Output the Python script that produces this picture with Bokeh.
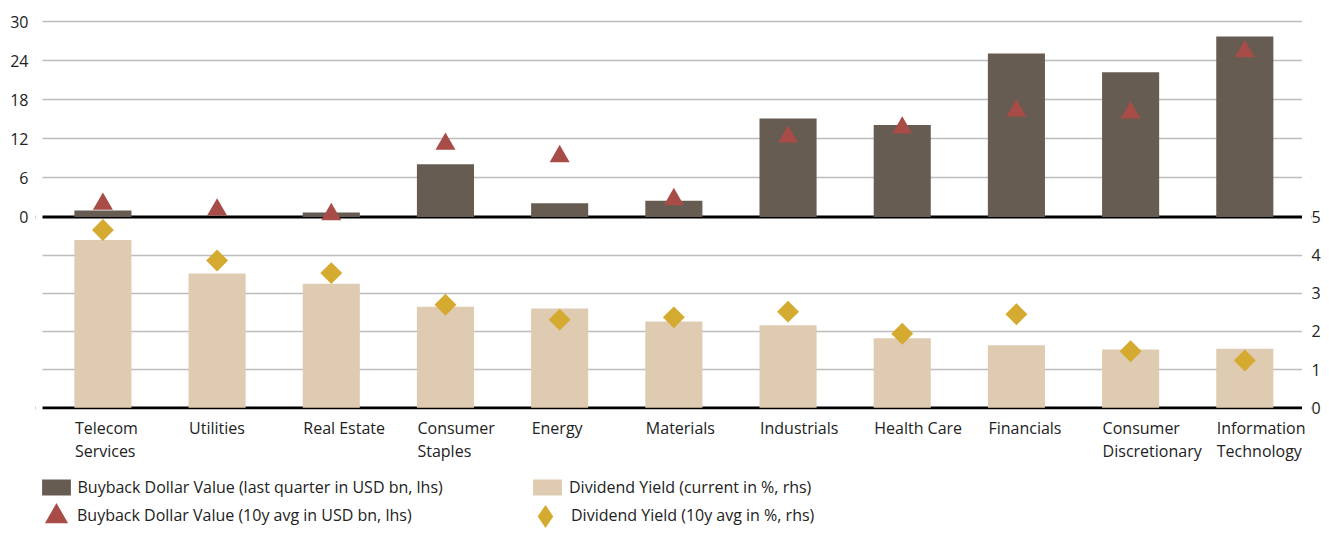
import math
from bokeh.plotting import figure
from bokeh.models import (Range1d, LinearAxis, FixedTicker, Grid, Span, Legend,
                          LegendItem, LabelSet, ColumnDataSource, BoxAnnotation)
from bokeh.core.properties import value
from bokeh.embed import file_html
from bokeh.resources import INLINE

# ---------------- data ----------------
categories = ["Telecom Services", "Utilities", "Real Estate", "Consumer Staples",
              "Energy", "Materials", "Industrials", "Health Care", "Financials",
              "Consumer Discretionary", "Information Technology"]
category_labels = ["Telecom\nServices", "Utilities", "Real Estate", "Consumer\nStaples",
                   "Energy", "Materials", "Industrials", "Health Care", "Financials",
                   "Consumer\nDiscretionary", "Information\nTechnology"]
buyback_last_q = [1.0, 0.0, 0.7, 8.1, 2.1, 2.5, 15.1, 14.1, 25.1, 22.2, 27.7]
buyback_10y_avg = [2.0, 1.1, 0.4, 11.2, 9.3, 2.7, 12.3, 13.7, 16.3, 16.0, 25.4]
div_yield_current = [4.40, 3.52, 3.25, 2.65, 2.60, 2.26, 2.16, 1.82, 1.64, 1.53, 1.55]
div_yield_10y_avg = [4.66, 3.86, 3.53, 2.70, 2.31, 2.37, 2.52, 1.94, 2.45, 1.48, 1.24]
lhs_ticks = [0, 6, 12, 18, 24, 30]
rhs_ticks = [0, 1, 2, 3, 4, 5]
legend_labels = ["Buyback Dollar Value (last quarter in USD bn, lhs)",
                 "Buyback Dollar Value (10y avg in USD bn, lhs)",
                 "Dividend Yield (current in %, rhs)",
                 "Dividend Yield (10y avg in %, rhs)"]

# ---------------- styles / layout ----------------
FONT = "Open Sans"
FONT_SIZE = "16px"
TEXT_COLOR = "#222222"
C_BB_BAR = "#665c52"
C_BB_TRI = "#a84c47"
C_DY_BAR = "#dfcbb1"
C_DY_DIA = "#d5aa30"
C_GRID = "#bdbdbd"
BAR_WIDTH = 0.5

n_cat = len(categories)
xpos = list(range(n_cat))                  # category slot index on the x scale

# page-pixel layout
FRAME_LEFT, FRAME_RIGHT = 35, 1311
FRAME_TOP, FRAME_BOTTOM = 11, 531
CAT_LEFT_PX, CAT_RIGHT_PX = 45.3, 1301.4  # extent of the category slots
GRID_LEFT_PX, GRID_RIGHT_PX = 42.0, 1301.5  # visible extent of grid / zero lines
LHS_ZERO_PX, LHS_TOP_PX = 216.5, 21.0     # page y of lhs 0 and lhs max tick
RHS_ZERO_PX, RHS_TOP_PX = 407.3, 216.5    # page y of rhs 0 and rhs max tick

ppc = (CAT_RIGHT_PX - CAT_LEFT_PX) / n_cat
x_lo, x_hi = -0.5, n_cat - 0.5
x_start = x_lo - (CAT_LEFT_PX - FRAME_LEFT) / ppc
x_end = x_hi + (FRAME_RIGHT - CAT_RIGHT_PX) / ppc
grid_x0 = x_lo - (CAT_LEFT_PX - GRID_LEFT_PX) / ppc
grid_x1 = x_hi + (GRID_RIGHT_PX - CAT_RIGHT_PX) / ppc

lhs_k = (LHS_ZERO_PX - LHS_TOP_PX) / lhs_ticks[-1]
rhs_k = (RHS_ZERO_PX - RHS_TOP_PX) / rhs_ticks[-1]
y_start = -(FRAME_BOTTOM - LHS_ZERO_PX) / lhs_k
y_end = (LHS_ZERO_PX - FRAME_TOP) / lhs_k
r_start = -(FRAME_BOTTOM - RHS_ZERO_PX) / rhs_k
r_end = (RHS_ZERO_PX - FRAME_TOP) / rhs_k

p = figure(x_range=Range1d(x_start, x_end), y_range=Range1d(y_start, y_end),
           frame_width=FRAME_RIGHT - FRAME_LEFT, frame_height=FRAME_BOTTOM - FRAME_TOP,
           min_border_left=FRAME_LEFT, min_border_right=12,
           min_border_top=FRAME_TOP, min_border_bottom=0,
           x_axis_location=None, output_backend="svg", toolbar_location=None,
           title=None, outline_line_color=None, background_fill_color="white",
           border_fill_color="white")
p.extra_y_ranges = {"rhs": Range1d(r_start, r_end)}

# axes
p.yaxis[0].ticker = FixedTicker(ticks=lhs_ticks)
p.yaxis[0].major_label_standoff = 7
right_axis = LinearAxis(y_range_name="rhs", ticker=FixedTicker(ticks=rhs_ticks))
right_axis.major_label_standoff = 0
p.add_layout(right_axis, "right")
for ax in p.yaxis:
    ax.axis_line_color = None
    ax.major_tick_line_color = None
    ax.minor_tick_line_color = None
    ax.major_tick_out = 0
    ax.major_tick_in = 0
    ax.minor_tick_out = 0
    ax.minor_tick_in = 0
    ax.major_label_text_font = FONT
    ax.major_label_text_font_size = FONT_SIZE
    ax.major_label_text_color = TEXT_COLOR

# grids
p.xgrid.visible = False
p.ygrid.ticker = FixedTicker(ticks=lhs_ticks[1:])
p.ygrid.grid_line_color = C_GRID
p.ygrid.grid_line_width = 1.5
p.add_layout(Grid(dimension=1, ticker=FixedTicker(ticks=rhs_ticks[1:-1]),
                  y_range_name="rhs", grid_line_color=C_GRID, grid_line_width=1.5))

# zero lines
p.add_layout(Span(location=0, dimension="width", line_color="black", line_width=2.8,
                  level="underlay"))
p.add_layout(Span(location=0, dimension="width", line_color="black", line_width=2.8,
                  y_range_name="rhs", level="underlay"))

# white margins that trim grid / zero lines to the plotting area
p.add_layout(BoxAnnotation(right=grid_x0, fill_color="white", fill_alpha=1,
                           line_alpha=0, level="underlay"))
p.add_layout(BoxAnnotation(left=grid_x1, fill_color="white", fill_alpha=1,
                           line_alpha=0, level="underlay"))

# bars
r_bb_bar = p.vbar(x=xpos, top=buyback_last_q, bottom=0, width=BAR_WIDTH,
                  fill_color=C_BB_BAR, line_color=None)
r_dy_bar = p.vbar(x=xpos, top=div_yield_current, bottom=0, width=BAR_WIDTH,
                  fill_color=C_DY_BAR, line_color=None, y_range_name="rhs")

# markers
r_bb_tri = p.scatter(x=xpos, y=buyback_10y_avg, marker="triangle", size=20,
                     fill_color=C_BB_TRI, line_color=None, level="overlay")
# narrow diamond underneath (hidden by the rotated square) - used for the legend swatch
r_dy_dia_leg = p.scatter(x=xpos, y=div_yield_10y_avg, marker="diamond", size=21,
                         fill_color=C_DY_DIA, line_color=None, y_range_name="rhs")
r_dy_dia = p.scatter(x=xpos, y=div_yield_10y_avg, marker="square", size=15.5,
                     angle=math.pi / 4, fill_color=C_DY_DIA, line_color=None,
                     y_range_name="rhs", level="overlay")

# category labels (left aligned with the bar edge)
lbl_src = ColumnDataSource(dict(x=xpos, y=[rhs_ticks[0]] * n_cat, text=category_labels))
p.add_layout(LabelSet(x="x", y="y", text="text", source=lbl_src, y_range_name="rhs",
                      x_offset=-28, y_offset=-9, text_align="left",
                      text_baseline="top", text_font=value(FONT),
                      text_font_size=value(FONT_SIZE), text_color=TEXT_COLOR,
                      text_line_height=1.055))

# legends (one per entry so each can be placed freely)
def add_legend(label, renderer, loc, gw, gh, standoff):
    lg = Legend(items=[LegendItem(label=label, renderers=[renderer])],
                location=loc, glyph_width=gw, glyph_height=gh, label_height=gh,
                label_standoff=standoff, padding=0, margin=0, spacing=0,
                border_line_alpha=0, background_fill_alpha=0,
                label_text_font=FONT, label_text_font_size=FONT_SIZE,
                label_text_color=TEXT_COLOR)
    p.add_layout(lg)

# row 1: bar swatches with their labels
add_legend(legend_labels[0], r_bb_bar, (2.5, 33), 36, 20, 4)
add_legend(legend_labels[2], r_dy_bar, (494, 33), 36, 20, 4)
# row 2: large marker swatches, labels placed separately
add_legend(" ", r_bb_tri, (-8.5, -14), 58, 58, 0)
add_legend(" ", r_dy_dia_leg, (481, -14), 58, 58, 0)
add_legend(legend_labels[1], r_bb_tri, (42, 5), 0, 20, 0)
add_legend(legend_labels[3], r_dy_dia_leg, (536, 5), 0, 20, 0)

open("out.html", "w").write(file_html(p, INLINE))
